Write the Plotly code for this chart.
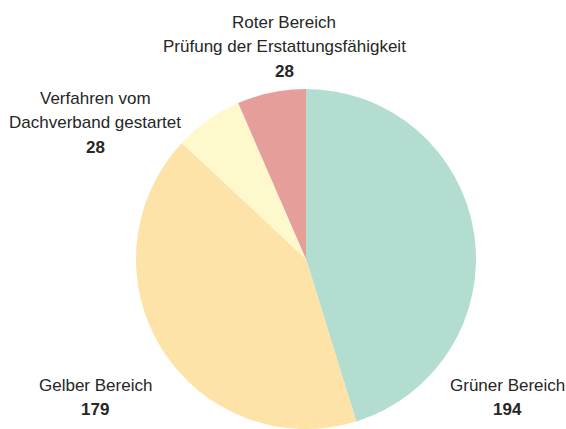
import plotly.graph_objs as go

labels = ['Grüner Bereich', 'Gelber Bereich', 'Verfahren vom Dachverband gestartet',
          'Roter Bereich Prüfung der Erstattungsfähigkeit']
values = [194, 179, 28, 28]
colors = ['#b3ddd0', '#fde3a8', '#fef8cd', '#e59e99']

# label text lines per slice, with pixel position of the label block (center x, first line y)
label_lines = [
    ['Grüner Bereich'],
    ['Gelber Bereich'],
    ['Verfahren vom', 'Dachverband gestartet'],
    ['Roter Bereich', 'Prüfung der Erstattungsfähigkeit'],
]
label_pos = [(507, 385), (95, 385), (95, 98), (284, 22)]

W, H = 566, 429
LINE = 24.5


def px(x):
    return x / W


def py(y):
    return 1 - y / H


fig = go.Figure()
fig.add_trace(
    go.Pie(
        labels=labels,
        values=values,
        sort=False,
        direction='clockwise',
        rotation=0,
        marker=dict(colors=colors, line=dict(width=0)),
        textinfo='none',
        hoverinfo='label+value',
        domain=dict(x=[px(135), px(477)], y=[0, py(89)]),
        showlegend=False
    )
)

annotations = []
for lines, val, (cx, cy) in zip(label_lines, values, label_pos):
    for i, txt in enumerate(lines + ['<b>%d</b>' % val]):
        annotations.append(dict(
            x=px(cx), y=py(cy + i * LINE),
            xref='paper', yref='paper',
            xanchor='center', yanchor='middle',
            text=txt, showarrow=False,
            font=dict(family='Liberation Sans', size=17, color='#262626')
        ))

fig.update_layout(
    width=W, height=H,
    margin=dict(l=0, r=0, t=0, b=0),
    paper_bgcolor='white',
    plot_bgcolor='white',
    annotations=annotations
)

# drop the default body margin so the chart fills the window
fig.write_html('out.html', config={'displayModeBar': False},
               post_script="document.body.style.margin='0';")
